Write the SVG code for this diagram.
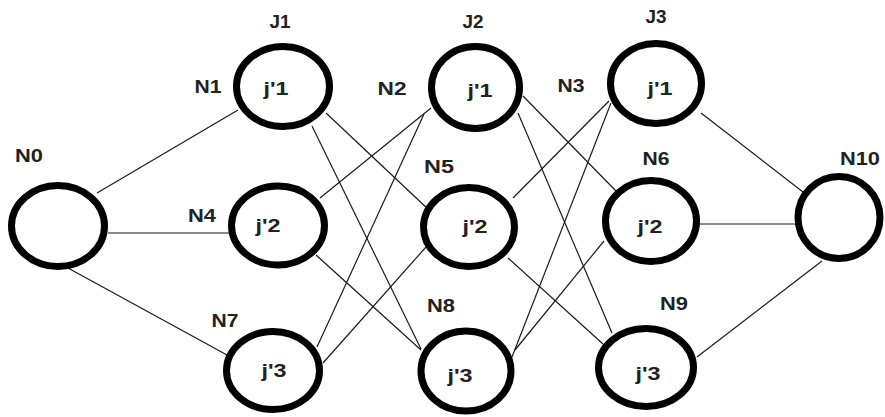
<svg xmlns="http://www.w3.org/2000/svg" width="885" height="417" viewBox="0 0 885 417">
<style>
.n{fill:none;stroke:#000;stroke-width:7}
.c line{stroke:#1a1a1a;stroke-width:1.2}
text{font-family:"Liberation Sans",Arial,sans-serif;font-weight:bold;font-size:18px;fill:#222;text-anchor:middle}
</style>
<rect width="885" height="417" fill="#fff"/>
<g id="connectors" class="c">
<line x1="97" y1="193" x2="238" y2="110"/>
<line x1="108" y1="233" x2="231" y2="233"/>
<line x1="68" y1="268" x2="227" y2="355"/>
<line x1="326" y1="113" x2="429" y2="210"/>
<line x1="312" y1="126" x2="421" y2="349"/>
<line x1="320" y1="198" x2="431" y2="108"/>
<line x1="316" y1="255" x2="421" y2="350"/>
<line x1="317" y1="347" x2="424" y2="114"/>
<line x1="323" y1="363" x2="426" y2="247"/>
<line x1="523" y1="96" x2="616" y2="191"/>
<line x1="518" y1="113" x2="612" y2="333"/>
<line x1="513" y1="198" x2="609" y2="101"/>
<line x1="508" y1="258" x2="603" y2="344"/>
<line x1="512" y1="357" x2="611" y2="103"/>
<line x1="515" y1="350" x2="604" y2="241"/>
<line x1="701" y1="113" x2="803" y2="192"/>
<line x1="700" y1="224" x2="798" y2="224"/>
<line x1="697" y1="357" x2="822" y2="261"/>
</g>
<g id="N0"><ellipse class="n" cx="58" cy="226" rx="46.5" ry="40.5"/><text x="29" y="162" textLength="28" lengthAdjust="spacingAndGlyphs">N0</text></g>
<g id="N1"><ellipse class="n" cx="283" cy="86.5" rx="46.5" ry="40"/><text x="280" y="28" textLength="21" lengthAdjust="spacingAndGlyphs">J1</text><text x="208" y="93" textLength="27" lengthAdjust="spacingAndGlyphs">N1</text><text x="276" y="95" textLength="25" lengthAdjust="spacingAndGlyphs">j'1</text></g>
<g id="N2"><ellipse class="n" cx="475.5" cy="87.5" rx="44" ry="41"/><text x="473" y="28" textLength="21" lengthAdjust="spacingAndGlyphs">J2</text><text x="392" y="95" textLength="29" lengthAdjust="spacingAndGlyphs">N2</text><text x="480" y="97" textLength="25" lengthAdjust="spacingAndGlyphs">j'1</text></g>
<g id="N3"><ellipse class="n" cx="656" cy="83.5" rx="45.5" ry="40"/><text x="656" y="23" textLength="21" lengthAdjust="spacingAndGlyphs">J3</text><text x="571" y="92" textLength="27" lengthAdjust="spacingAndGlyphs">N3</text><text x="660" y="95" textLength="25" lengthAdjust="spacingAndGlyphs">j'1</text></g>
<g id="N4"><ellipse class="n" cx="278" cy="225.5" rx="46.5" ry="39.5"/><text x="202" y="222" textLength="28" lengthAdjust="spacingAndGlyphs">N4</text><text x="268" y="232" textLength="25" lengthAdjust="spacingAndGlyphs">j'2</text></g>
<g id="N5"><ellipse class="n" cx="469" cy="227" rx="45.5" ry="39.5"/><text x="439" y="173" textLength="30" lengthAdjust="spacingAndGlyphs">N5</text><text x="475" y="233" textLength="25" lengthAdjust="spacingAndGlyphs">j'2</text></g>
<g id="N6"><ellipse class="n" cx="651" cy="221" rx="45.5" ry="40.5"/><text x="656" y="165" textLength="27" lengthAdjust="spacingAndGlyphs">N6</text><text x="650" y="233" textLength="25" lengthAdjust="spacingAndGlyphs">j'2</text></g>
<g id="N7"><ellipse class="n" cx="273" cy="370.5" rx="46.5" ry="39"/><text x="225" y="327" textLength="27" lengthAdjust="spacingAndGlyphs">N7</text><text x="274" y="377" textLength="25" lengthAdjust="spacingAndGlyphs">j'3</text></g>
<g id="N8"><ellipse class="n" cx="466" cy="371" rx="45" ry="40"/><text x="441" y="312" textLength="28" lengthAdjust="spacingAndGlyphs">N8</text><text x="460" y="382" textLength="25" lengthAdjust="spacingAndGlyphs">j'3</text></g>
<g id="N9"><ellipse class="n" cx="646" cy="367.5" rx="47.5" ry="39"/><text x="674" y="310" textLength="28" lengthAdjust="spacingAndGlyphs">N9</text><text x="648" y="380" textLength="25" lengthAdjust="spacingAndGlyphs">j'3</text></g>
<g id="N10"><ellipse class="n" cx="839" cy="217.5" rx="41" ry="41"/><text x="860" y="165" textLength="40" lengthAdjust="spacingAndGlyphs">N10</text></g>
</svg>
